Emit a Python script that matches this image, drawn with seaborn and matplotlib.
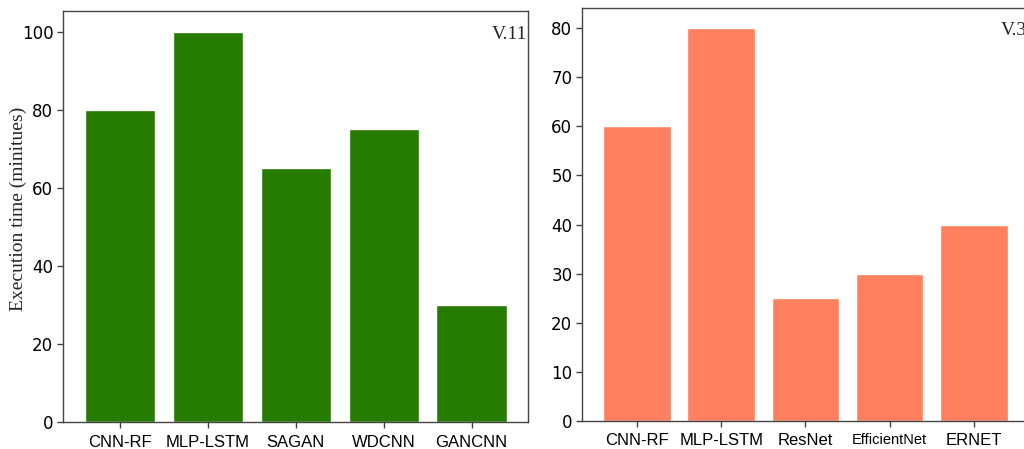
"""
Execution time comparison of two model groups (V.11 and V.3).
"""

import pandas as pd
import matplotlib.pyplot as plt
import seaborn as sns

# Data
LEFT_MODELS = ['CNN-RF', 'MLP-LSTM', 'SAGAN', 'WDCNN', 'GANCNN']
LEFT_TIMES = [80, 100, 65, 75, 30]
RIGHT_MODELS = ['CNN-RF', 'MLP-LSTM', 'ResNet', 'EfficientNet', 'ERNET']
RIGHT_TIMES = [60, 80, 25, 30, 40]
LEFT_TAG = 'V.11'
RIGHT_TAG = 'V.3'
Y_LABEL = 'Execution time (minitues)'

GREEN = '#267c00'
SALMON = '#ff805f'


def drawPanel(ax, models, times, color, tag, ymax, yticks):
    df = pd.DataFrame({'model': models, 'time': times})
    sns.barplot(data=df, x='model', y='time', color=color, saturation=1,
                width=0.8, ax=ax)
    ax.set_xlim(-0.65, len(models) - 0.36)
    ax.set_ylim(0, ymax)
    ax.set_yticks(yticks)
    ax.set_xlabel('')
    ax.set_ylabel('')
    for lab in ax.get_xticklabels():
        lab.set_family(['Liberation Sans Narrow', 'Liberation Sans'])
        size = 10.5 if len(lab.get_text()) > 9 else 12
        lab.set_fontsize(size)
    for lab in ax.get_yticklabels():
        lab.set_family('DejaVu Sans')
        lab.set_fontsize(12)
    for spine in ax.spines.values():
        spine.set_visible(True)
        spine.set_color('#444444')
        spine.set_linewidth(1.0)
    ax.tick_params(axis='both', direction='out', length=4, width=1,
                   color='#444444', labelcolor='black', pad=3)
    ax.tick_params(axis='x', pad=5)
    ax.text(0.998, 0.965, tag, transform=ax.transAxes, ha='right', va='top',
            family='Liberation Serif', fontsize=14)


def main():
    sns.set_style('ticks')
    fig = plt.figure(figsize=(10.24, 4.49), dpi=100)

    axLeft = fig.add_axes([0.0615, 0.060, 0.454, 0.915])
    axRight = fig.add_axes([0.5684, 0.0624, 0.4355, 0.920])

    drawPanel(axLeft, LEFT_MODELS, LEFT_TIMES, GREEN, LEFT_TAG, 105.3,
              [0, 20, 40, 60, 80, 100])
    drawPanel(axRight, RIGHT_MODELS, RIGHT_TIMES, SALMON, RIGHT_TAG, 84.1,
              [0, 10, 20, 30, 40, 50, 60, 70, 80])

    axLeft.set_ylabel(Y_LABEL, family='Liberation Serif', fontsize=14)
    axLeft.yaxis.set_label_coords(-0.077, 0.518)

    fig.savefig('out.png', dpi=100)


if __name__ == "__main__":
    main()
